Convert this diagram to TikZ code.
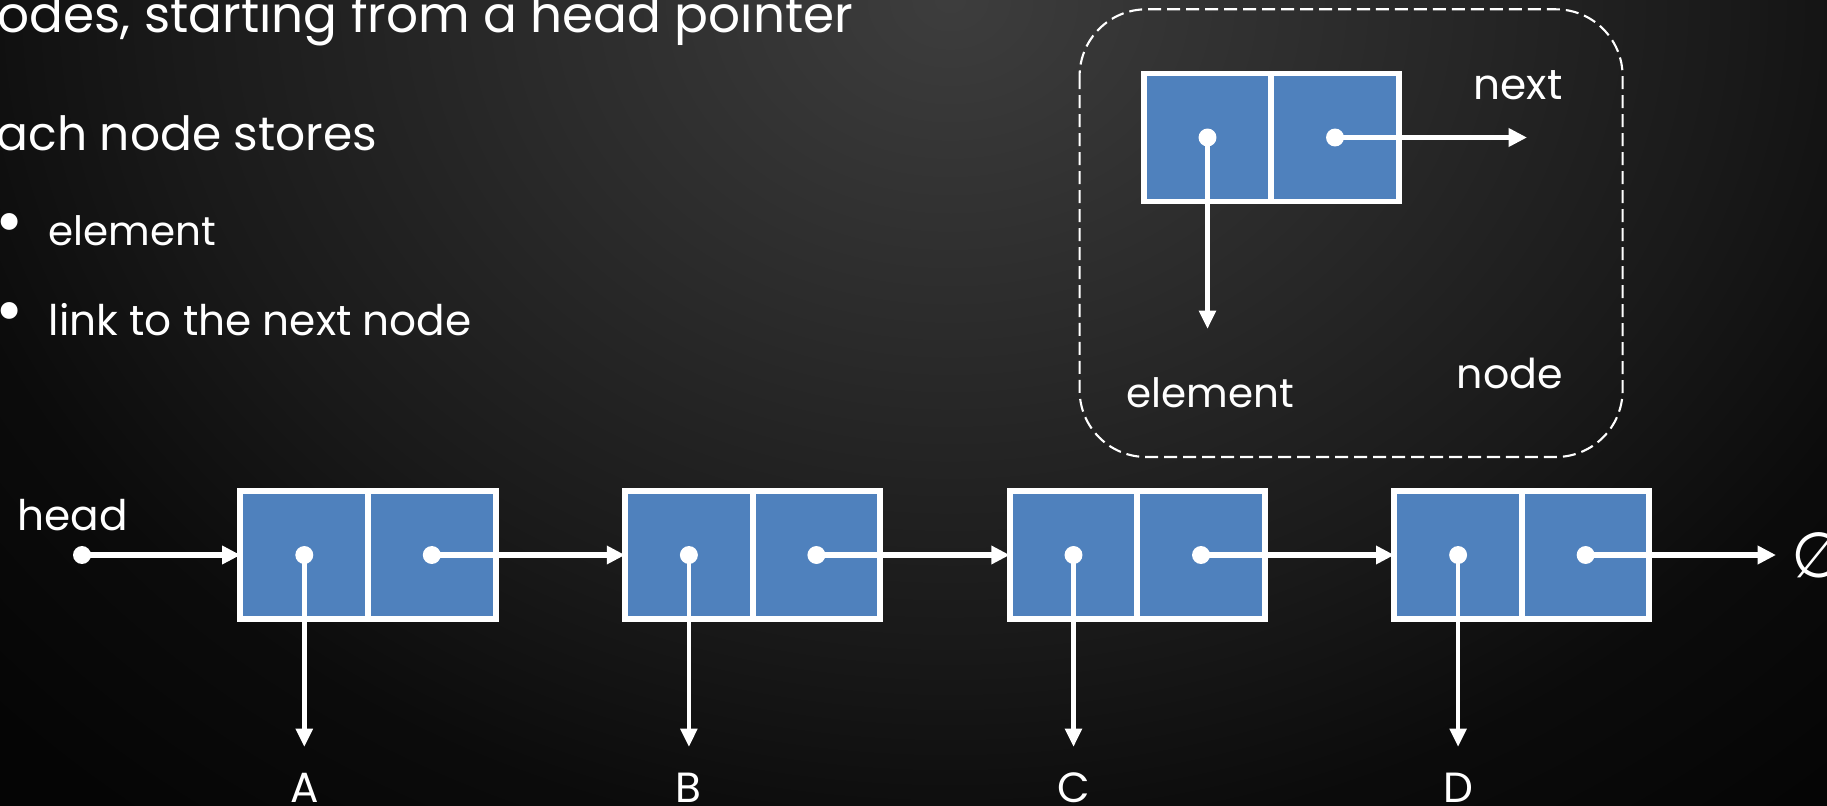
\documentclass[tikz,border=0pt]{standalone}
\usepackage{fontspec}
\setmainfont{Poppins}
\newfontfamily\symfont{DejaVu Sans}
\usetikzlibrary{arrows.meta}
\definecolor{cellblue}{HTML}{4F81BD}
\definecolor{bgA}{gray}{0.24}
\definecolor{bgB}{gray}{0.17}
\definecolor{bgC}{gray}{0.10}
\definecolor{bgD}{gray}{0.045}
\definecolor{bgE}{gray}{0.02}
% radial glow; the 25bp ring is the edge of the shaded ellipse
\pgfdeclareradialshading{bgglow}{\pgfpoint{0bp}{0bp}}{%
  color(0bp)=(bgA); color(6.25bp)=(bgB); color(12.2bp)=(bgC);
  color(16.25bp)=(bgD); color(20.3bp)=(bgE); color(50bp)=(bgE)}
\begin{document}
\begin{tikzpicture}[x=0.01cm, y=-0.01cm,
  cell/.style={draw=white, line width=1.7pt, fill=cellblue,
    minimum width=36.3pt, minimum height=36.4pt, inner sep=0pt, outer sep=0pt},
  ptr/.style={circle, fill=white, minimum size=5.1pt, inner sep=0pt},
  link/.style={white, line width=1.6pt, -{Triangle[length=5.2pt,width=5pt]}},
  val/.style={white, line width=1.3pt, -{Triangle[length=5.2pt,width=4.6pt]}},
  lbl/.style={text=white, font=\fontsize{12}{14}\selectfont, inner sep=0pt},
  big/.style={text=white, inner sep=0pt, anchor=base west},
  dotmark/.style={text=white, inner sep=0pt, anchor=center, font=\symfont\fontsize{16.5}{18}\selectfont},
  frame/.style={draw=white, line width=0.6pt, dash pattern=on 3.7pt off 1.7pt, rounded corners=19pt}]
\clip (0,0) rectangle (1827,806);
\fill[black] (0,0) rectangle (1827,806);
\shade[shading=bgglow] (950,0) ellipse [x radius=1600, y radius=1300];

% bullet text
\node[big, font=\fontsize{14.25}{17}\selectfont] (t1) at (-3,32) {odes, starting from a head pointer};
\node[big, font=\fontsize{13.4}{16}\selectfont] (t2) at (-4,150) {ach node stores};
\node[dotmark] (u1) at (10,229) {\makebox[0pt]{•}};
\node[lbl, anchor=base west, font=\fontsize{11.5}{14}\selectfont] (i1) at (48,245) {element};
\node[dotmark] (u2) at (10,318) {\makebox[0pt]{•}};
\node[lbl, anchor=base west] (i2) at (48,335) {link to the next node};

% legend: one node and what its fields point to
\draw[frame] (1079.6,9.3) rectangle (1622.6,457);
\node[cell] (n1) at (1207.5,137.5) {};
\node[cell] (n2) at (1335,137.5) {};
\node[ptr] (n1p) at (n1.center) {};
\node[ptr] (n2p) at (n2.center) {};
\coordinate (nnext) at (1527,137.5);
\coordinate (nelem) at (1207.5,329);
\draw[link] (n2p.center) -- (nnext);
\draw[val] (n1p.center) -- (nelem);
\node[lbl, anchor=base west] (lnext) at (1473,100) {next};
\node[lbl, anchor=base west, font=\fontsize{11.5}{14}\selectfont] (lelem) at (1126,407) {element};
\node[lbl, anchor=base west, font=\fontsize{11.7}{14}\selectfont] (lnode) at (1456,388) {node};

% the list itself
\node[lbl, anchor=base west] (head) at (17,530) {head};
\node[ptr] (hp) at (82,555) {};
\foreach \n/\x/\t in {a/304.3/A, b/688.9/B, c/1073.5/C, d/1458.1/D}{
  \node[cell] (\n1) at (\x,555) {};
  \node[cell] (\n2) at (\x+127.5,555) {};
  \node[ptr] (\n1p) at (\n1.center) {};
  \node[ptr] (\n2p) at (\n2.center) {};
  \coordinate (\n e) at (\x,747);
  \node[lbl, anchor=base] (\n v) at (\x,802) {\t};
  \draw[val] (\n1p.center) -- (\n e);
}
\draw[link] (hp.center) -- (a1.west);
\draw[link] (a2p.center) -- (b1.west);
\draw[link] (b2p.center) -- (c1.west);
\draw[link] (c2p.center) -- (d1.west);
\coordinate (nullend) at (1776,555);
\draw[link] (d2p.center) -- (nullend);
\node[lbl, anchor=west, font=\symfont\fontsize{18}{20}\selectfont] (null) at (1791,555) {∅};
\end{tikzpicture}
\end{document}
